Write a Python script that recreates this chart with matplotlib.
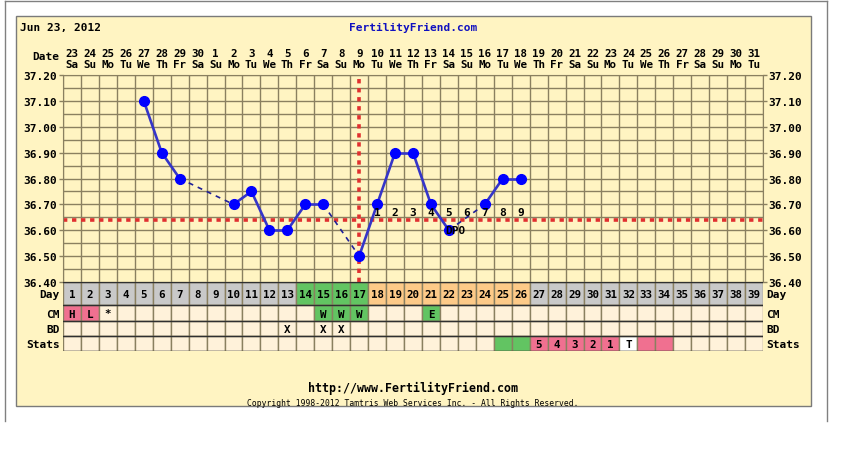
"""
Fertility chart (BBT) recreation.
Output: out.png
"""
import matplotlib.pyplot as plt
from matplotlib.patches import Rectangle

W, H = 842, 460
FIG_PATH = "out.png"

# ---- data ----
days = list(range(1, 40))
dates = ["23", "24", "25", "26", "27", "28", "29", "30",
         "1", "2", "3", "4", "5", "6", "7", "8", "9", "10", "11", "12", "13",
         "14", "15", "16", "17", "18", "19", "20", "21", "22", "23", "24",
         "25", "26", "27", "28", "29", "30", "31"]
weekdays = ["Sa", "Su", "Mo", "Tu", "We", "Th", "Fr"] * 5 + ["Sa", "Su", "Mo", "Tu"]

temps = [None, None, None, None, 37.10, 36.90, 36.80, None, None, 36.70,
         36.75, 36.60, 36.60, 36.70, 36.70, None, 36.50, 36.70, 36.90, 36.90,
         36.70, 36.60, None, 36.70, 36.80, 36.80] + [None] * 13

coverline = 36.64
ovulation_day = 17
dpo_days = [18, 19, 20, 21, 22, 23, 24, 25, 26]
dpo_label_day = 22

day_phase = ["none"] * 13 + ["fertile"] * 4 + ["luteal"] * 9 + ["none"] * 13
cm_codes = {1: "H", 2: "L", 3: "*", 15: "W", 16: "W", 17: "W", 21: "E"}
bd_days = [13, 15, 16]
stats_cells = {25: ("green", ""), 26: ("green", ""),
               27: ("pink", "5"), 28: ("pink", "4"), 29: ("pink", "3"),
               30: ("pink", "2"), 31: ("pink", "1"), 32: ("white", "T"),
               33: ("pink", ""), 34: ("pink", "")}
row_names = ["Day", "CM", "BD", "Stats"]

# ---- styles ----
PANEL = "#FFF4C2"
CELL = "#FFF2DA"
GRID = "#8A8060"
COLORS = {"none": "#C9C9C9", "fertile": "#62C462", "luteal": "#FDCA88",
          "green": "#62C462", "pink": "#F07090", "white": "#FFFFFF"}
CM_COLORS = {"H": "pink", "L": "pink", "W": "green", "E": "green"}
RED = "#E03030"
FONT = "DejaVu Sans Mono"

plt.rcParams["font.family"] = FONT
plt.rcParams["font.weight"] = "bold"
plt.rcParams["font.size"] = 7.8


def px_axes(fig, x0, y0, x1, y1):
    return fig.add_axes([x0 / W, 1 - y1 / H, (x1 - x0) / W, (y1 - y0) / H])


def main():
    fig = plt.figure(figsize=(W / 100, H / 100), dpi=100, facecolor="white")

    # background panel and frame
    bg = fig.add_axes([0, 0, 1, 1], zorder=0)
    bg.set_xlim(0, W)
    bg.set_ylim(H, 0)
    bg.axis("off")
    bg.plot([5, 827], [1.5, 1.5], color="#808080", lw=1)
    bg.plot([5, 5], [1.5, 422], color="#808080", lw=1)
    bg.plot([827, 827], [1.5, 422], color="#808080", lw=1)
    bg.add_patch(Rectangle((16, 17), 795, 390, facecolor=PANEL,
                           edgecolor="#7A7A7A", lw=1))
    bg.text(20, 28, "Jun 23, 2012", ha="left", va="center", fontsize=8)
    bg.text(413, 28, "FertilityFriend.com", ha="center", va="center",
            fontsize=8, color="#1010C0")
    bg.text(413, 388, "http://www.FertilityFriend.com", ha="center",
            va="center", fontsize=8.4)
    bg.text(413, 404, "Copyright 1998-2012 Tamtris Web Services Inc. - "
            "All Rights Reserved.", ha="center", va="center", fontsize=5.8,
            fontweight="normal")

    # temperature chart
    ax = px_axes(fig, 63, 76, 763, 283)
    ax.set_facecolor(PANEL)
    ax.set_xlim(0.5, 39.5)
    ax.set_ylim(36.40, 37.20)
    for k in range(40):
        ax.axvline(0.5 + k, color=GRID, lw=1, zorder=1)
    for k in range(17):
        ax.axhline(36.40 + 0.05 * k, color=GRID, lw=1, zorder=1)
    for s in ax.spines.values():
        s.set_color(GRID)

    yt = [36.40 + 0.1 * k for k in range(9)]
    ax.set_yticks(yt)
    ax.set_yticklabels([f"{v:.2f}" for v in yt])
    ax.tick_params(axis="y", left=True, right=True, labelleft=True,
                   labelright=True, length=3, width=1, color=GRID, pad=1,
                   labelsize=8)
    ax.set_xticks(days)
    ax.set_xticklabels([f"{d}\n{w}" for d, w in zip(dates, weekdays)],
                       linespacing=1.2)
    ax.tick_params(axis="x", bottom=False, labelbottom=False, top=False,
                   labeltop=True, pad=0.5, labelsize=7.8)
    ax.text(-0.005, 1.09, "Date", transform=ax.transAxes, ha="right",
            va="center", fontsize=8)

    ax.axhline(coverline, color=RED, lw=2.6, ls=(0, (1.2, 1.3)), zorder=2)
    ax.axvline(ovulation_day, color=RED, lw=2.6, ls=(0, (1.2, 1.3)), zorder=2)

    pts = [(d, t) for d, t in zip(days, temps) if t is not None]
    for (d1, t1), (d2, t2) in zip(pts[:-1], pts[1:]):
        if d2 - d1 == 1:
            ax.plot([d1, d2], [t1, t2], color="#3535C8", lw=1.9, zorder=3,
                    solid_capstyle="round")
        else:
            ax.plot([d1, d2], [t1, t2], color="#202098", lw=1.2,
                    ls=(0, (3, 3)), zorder=3)
    ax.plot([p[0] for p in pts], [p[1] for p in pts], "o", color="#0000FF",
            markersize=7, zorder=4)

    for i, d in enumerate(dpo_days, start=1):
        ax.text(d, 36.672, str(i), ha="center", va="center", fontsize=8,
                zorder=5)
    ax.text(dpo_label_day - 0.2, temps[dpo_label_day - 1], "DPO", ha="left",
            va="center", fontsize=8, zorder=5)

    # table rows below the chart
    edges = [0, 23, 39, 54, 69]
    tb = px_axes(fig, 63, 283, 763, 352)
    tb.set_xlim(0.5, 39.5)
    tb.set_ylim(edges[-1], 0)
    tb.axis("off")

    def cell_row(r, colors, texts):
        top, bot = edges[r], edges[r + 1]
        tb.bar(days, [bot - top] * len(days), bottom=top, width=1,
               color=colors, edgecolor=GRID, lw=1, zorder=1)
        for d, txt in zip(days, texts):
            if txt:
                tb.text(d, (top + bot) / 2 + 0.5, txt, ha="center",
                        va="center", fontsize=7.8, zorder=3)

    cell_row(0, [COLORS[p] for p in day_phase], [str(d) for d in days])
    cm_colors = []
    for d in days:
        code = cm_codes.get(d, "")
        cm_colors.append(COLORS[CM_COLORS[code]] if code in CM_COLORS else CELL)
    cell_row(1, cm_colors, [cm_codes.get(d, "") for d in days])
    cell_row(2, [CELL] * len(days),
             ["X" if d in bd_days else "" for d in days])
    cell_row(3, [COLORS[stats_cells[d][0]] if d in stats_cells else CELL
                 for d in days],
             [stats_cells[d][1] if d in stats_cells else "" for d in days])
    for e in edges:
        tb.axhline(e, color="#303030", lw=1, zorder=2)

    for r, name in enumerate(row_names):
        yc = (edges[r] + edges[r + 1]) / 2 + 0.5
        tb.text(0.5 - 0.18, yc, name, ha="right", va="center", fontsize=8)
        tb.text(39.5 + 0.2, yc, name, ha="left", va="center", fontsize=8)

    fig.savefig(FIG_PATH, dpi=100, facecolor="white")
    plt.close()
    print(f"Saved {FIG_PATH}")


if __name__ == "__main__":
    main()
